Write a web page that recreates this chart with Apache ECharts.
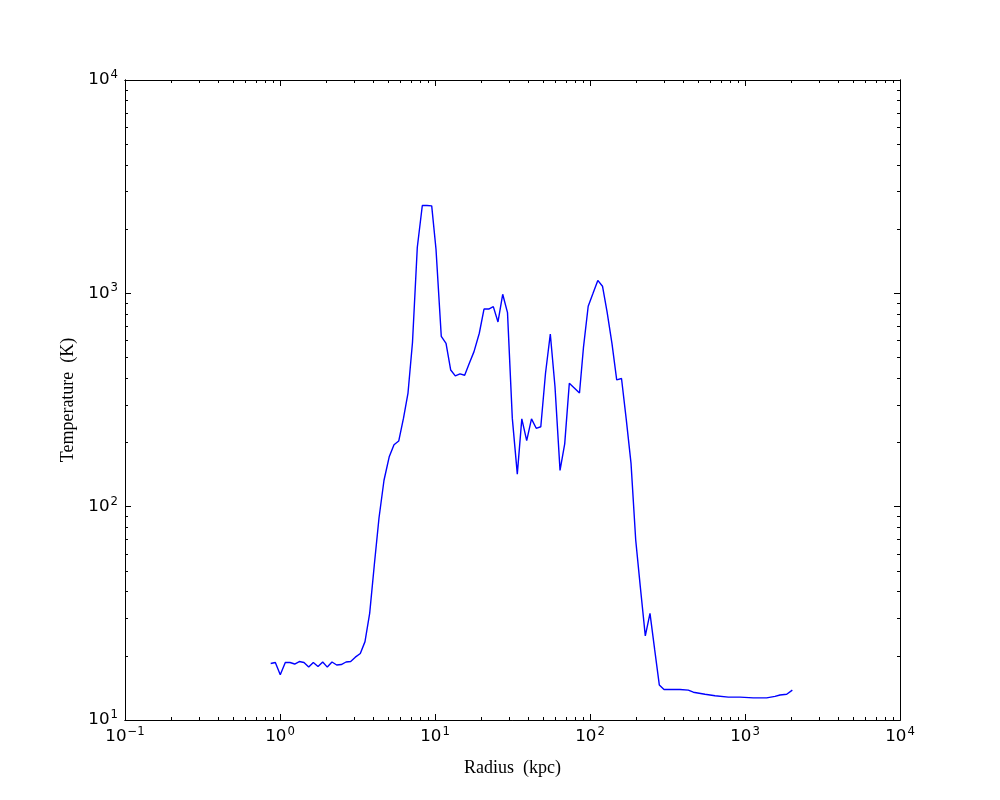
<!DOCTYPE html>
<html>
<head>
<meta charset="utf-8">
<script src="https://cdn.jsdelivr.net/npm/echarts@6.0.0/dist/echarts.min.js"></script>
<style>
html,body{margin:0;padding:0;background:#fff;}
#chart{width:1000px;height:800px;}
</style>
</head>
<body>
<div id="chart"></div>
<script>
// Radius (kpc)
const radius = [0.871, 0.933, 1.004, 1.082, 1.160, 1.244, 1.332, 1.428, 1.532, 1.640,
  1.759, 1.886, 2.019, 2.165, 2.322, 2.486, 2.666, 2.858, 3.061, 3.297,
  3.535, 3.791, 4.059, 4.352, 4.688, 5.073, 5.439, 5.832, 6.263, 6.696,
  7.157, 7.687, 8.282, 8.880, 9.522, 10.15, 10.98, 11.78, 12.63, 13.52,
  14.50, 15.54, 16.65, 17.85, 19.31, 20.71, 22.21, 23.78, 25.49, 27.34,
  29.36, 31.53, 33.96, 36.31, 39.05, 41.93, 44.98, 48.15, 51.64, 55.45,
  59.45, 64.07, 68.68, 73.55, 85.55, 90.8, 97.36, 104.6, 112.3, 120.4,
  128.8, 138.7, 148.7, 159.7, 171.5, 183.9, 197.2, 211.1, 227.4, 243.8,
  261.5, 280.0, 300.3, 344.6, 380.8, 430.8, 464.2, 552.0, 640.7, 780.4,
  928.4, 1131, 1380, 1561, 1682, 1858, 2020];
// Temperature (K)
const temperature = [18.4, 18.6, 16.3, 18.6, 18.6, 18.3, 18.8, 18.6, 17.7, 18.6,
  17.8, 18.7, 17.7, 18.7, 18.1, 18.2, 18.7, 18.8, 19.7, 20.5,
  23.3, 31.7, 53.3, 88.5, 133, 172, 195, 203, 260, 341,
  588, 1640, 2580, 2580, 2570, 1610, 628, 583, 437, 410,
  419, 413, 470, 533, 650, 844, 844, 866, 734, 990,
  812, 260, 142, 258, 204, 258, 233, 237, 422, 645,
  365, 148, 197, 379, 341, 560, 870, 1000, 1150, 1080,
  820, 579, 393, 399, 255, 160, 69.8, 42.2, 24.8, 31.6,
  21.3, 14.6, 13.9, 13.9, 13.9, 13.8, 13.5, 13.2, 13.0, 12.8,
  12.8, 12.7, 12.7, 12.9, 13.1, 13.2, 13.8];

const xMajorTicks = [0.1, 1, 10, 100, 1000, 10000];
const yMajorTicks = [10, 100, 1000, 10000];
const xDecades = [0.1, 1, 10, 100, 1000];
const yDecades = [10, 100, 1000];

function minorOf(decades) {
  const out = [];
  decades.forEach(d => { for (let k = 2; k <= 9; k++) out.push(+(d * k).toPrecision(6)); });
  return out;
}
const xMinorTicks = minorOf(xDecades);
const yMinorTicks = minorOf(yDecades);

function supLabel(v) {
  const e = Math.round(Math.log10(v));
  const es = e < 0 ? '\u2212' + (-e) : String(e);
  return '{b|10}{s|' + es + '}';
}
const rich = {
  b: { fontFamily: 'DejaVu Sans', fontSize: 16.7, color: '#000' },
  s: { fontFamily: 'DejaVu Sans', fontSize: 11.7, color: '#000', padding: [0, 0, 10, 1] }
};

function axis(kind, pos, min, max, ticks, len, withLabel, name) {
  const a = {
    type: 'log', logBase: 10, position: pos, min: min, max: max,
    gridIndex: 0,
    axisLine: { show: true, onZero: false, lineStyle: { color: '#000', width: 1 } },
    axisTick: { show: true, inside: true, length: len, customValues: ticks,
      lineStyle: { color: '#000', width: 1 } },
    axisLabel: { show: false },
    splitLine: { show: false },
    minorTick: { show: false },
    minorSplitLine: { show: false }
  };
  if (withLabel) {
    a.axisLabel = { show: true, customValues: ticks, formatter: supLabel, rich: rich,
      margin: kind === 'x' ? 6 : 7 };
  }
  if (name) {
    a.name = name;
    a.nameLocation = 'middle';
    a.nameTextStyle = { fontFamily: 'Liberation Serif', fontSize: 18, color: '#000' };
    a.nameGap = kind === 'x' ? 39 : 47;
  }
  return a;
}

const data = radius.map((r, i) => [r, temperature[i]]);

const chart = echarts.init(document.getElementById('chart'), null, { renderer: 'canvas' });
chart.setOption({
  animation: false,
  backgroundColor: '#fff',
  grid: { left: 125, right: 100, top: 80, bottom: 80, containLabel: false },
  xAxis: [
    axis('x', 'bottom', 0.1, 10000, xMajorTicks, 6, true, 'Radius  (kpc)'),
    axis('x', 'bottom', 0.1, 10000, xMinorTicks, 3, false),
    axis('x', 'top', 0.1, 10000, xMajorTicks, 6, false),
    axis('x', 'top', 0.1, 10000, xMinorTicks, 3, false)
  ],
  yAxis: [
    axis('y', 'left', 10, 10000, yMajorTicks, 6, true, 'Temperature  (K)'),
    axis('y', 'left', 10, 10000, yMinorTicks, 3, false),
    axis('y', 'right', 10, 10000, yMajorTicks, 6, false),
    axis('y', 'right', 10, 10000, yMinorTicks, 3, false)
  ],
  series: [{
    type: 'line',
    xAxisIndex: 0, yAxisIndex: 0,
    data: data,
    showSymbol: false,
    symbol: 'none',
    lineStyle: { color: '#0000ff', width: 1.4 },
    itemStyle: { color: '#0000ff' }
  }]
});
</script>
</body>
</html>
